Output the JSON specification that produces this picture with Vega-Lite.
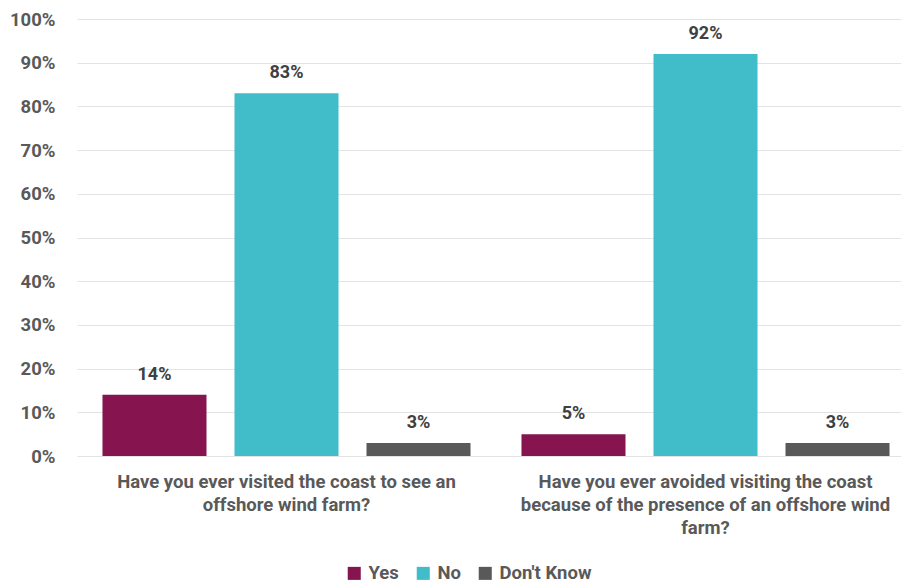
{
  "$schema": "https://vega.github.io/schema/vega-lite/v6.json",
  "width": 824,
  "height": 437,
  "autosize": {"type": "none"},
  "padding": {"left": 77, "top": 19, "right": 0, "bottom": 129},
  "background": "white",
  "config": {
    "view": {"stroke": null},
    "font": "Roboto"
  },
  "data": {
    "values": [
      {"question": "Have you ever visited the coast to see an|offshore wind farm?", "answer": "Yes", "value": 0.14},
      {"question": "Have you ever visited the coast to see an|offshore wind farm?", "answer": "No", "value": 0.83},
      {"question": "Have you ever visited the coast to see an|offshore wind farm?", "answer": "Don't Know", "value": 0.03},
      {"question": "Have you ever avoided visiting the coast|because of the presence of an offshore wind|farm?", "answer": "Yes", "value": 0.05},
      {"question": "Have you ever avoided visiting the coast|because of the presence of an offshore wind|farm?", "answer": "No", "value": 0.92},
      {"question": "Have you ever avoided visiting the coast|because of the presence of an offshore wind|farm?", "answer": "Don't Know", "value": 0.03}
    ]
  },
  "encoding": {
    "x": {
      "field": "question",
      "type": "nominal",
      "sort": null,
      "scale": {"range": [0, 838], "paddingInner": 0, "paddingOuter": 0},
      "axis": {
        "title": null,
        "domain": false,
        "ticks": false,
        "labelAngle": 0,
        "labelExpr": "split(datum.label, '|')",
        "labelFont": "Roboto",
        "labelFontSize": 18.5,
        "labelFontWeight": "bold",
        "labelColor": "#595959",
        "labelLineHeight": 23,
        "labelPadding": 16,
        "labelLimit": 0,
        "labelBaseline": "top"
      }
    },
    "xOffset": {
      "field": "answer",
      "type": "nominal",
      "sort": ["Yes", "No", "Don't Know"],
      "scale": {"paddingInner": 0.212, "paddingOuter": 0.193}
    },
    "y": {
      "field": "value",
      "type": "quantitative",
      "scale": {"domain": [0, 1], "nice": false},
      "axis": {
        "title": null,
        "format": ".0%",
        "values": [0, 0.1, 0.2, 0.3, 0.4, 0.5, 0.6, 0.7, 0.8, 0.9, 1],
        "domain": false,
        "ticks": false,
        "labelFont": "Roboto",
        "labelFontSize": 18.5,
        "labelFontWeight": "bold",
        "labelColor": "#595959",
        "labelPadding": 22,
        "gridColor": "#e3e3e3",
        "gridWidth": 1
      }
    }
  },
  "layer": [
    {
      "mark": {"type": "bar"},
      "encoding": {
        "color": {
          "field": "answer",
          "type": "nominal",
          "sort": ["Yes", "No", "Don't Know"],
          "scale": {"domain": ["Yes", "No", "Don't Know"], "range": ["#86154F", "#41BDC9", "#595959"]},
          "legend": {
            "title": null,
            "orient": "none",
            "direction": "horizontal",
            "legendX": 268,
            "legendY": 545,
            "symbolType": "square",
            "symbolSize": 170,
            "symbolOpacity": 1,
            "symbolStrokeWidth": 0,
            "labelFont": "Roboto",
            "labelFontSize": 18.5,
            "labelFontWeight": "bold",
            "labelColor": "#595959",
            "columnPadding": 15,
            "labelOffset": 5
          }
        }
      }
    },
    {
      "mark": {"type": "text", "dy": -11, "baseline": "bottom", "font": "Roboto", "fontSize": 18, "fontWeight": "bold", "color": "#404040"},
      "encoding": {
        "text": {"field": "value", "type": "quantitative", "format": ".0%"}
      }
    }
  ]
}
